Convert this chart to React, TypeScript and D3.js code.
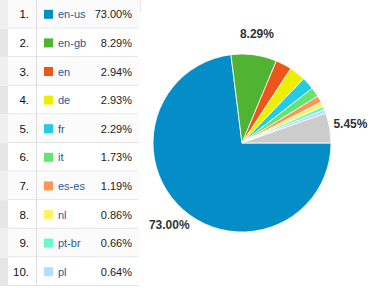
import React from "react";
import * as d3 from "d3";

const categories = ["en-us", "en-gb", "en", "de", "fr", "it", "es-es", "nl", "pt-br", "pl"];
const values = [73.0, 8.29, 2.94, 2.93, 2.29, 1.73, 1.19, 0.86, 0.66, 0.64];
const otherLabel = "other";
const otherValue = 5.45;
const palette = ["#058dc7", "#50b432", "#ed561b", "#edef00", "#24cbe5", "#64e572", "#ff9655", "#fff263", "#6af9c4", "#b2deff"];
const otherColor = "#cccccc";

const W = 383;
const H = 288;

export default function App() {
  const rowH = 28.6;
  const rowY = d3.scaleLinear().domain([0, 1]).range([0, rowH]);

  const slices = categories.map((c, i) => ({ name: c, value: values[i], color: palette[i] }))
    .concat([{ name: otherLabel, value: otherValue, color: otherColor }]);

  const cx = 242, cy = 143, r = 89, lr = 110;
  const pie = d3.pie<any>().value((d: any) => d.value).sort(null)
    .startAngle(Math.PI / 2).endAngle(Math.PI / 2 + 2 * Math.PI);
  const arcs = pie(slices);
  const arcGen = d3.arc<any>().innerRadius(0).outerRadius(r);
  const labelArc = d3.arc<any>().innerRadius(lr).outerRadius(lr);

  const font = "'Liberation Sans', Arial, sans-serif";

  return (
    <svg width={W} height={H} style={{ position: "absolute", left: 0, top: 0, background: "#fff" }}>
      <g>
        {categories.map((c, i) => {
          const y0 = rowY(i);
          const y1 = rowY(i + 1);
          const mid = (y0 + y1) / 2;
          return (
            <g key={c}>
              <rect x={0} y={y0} width={140} height={y1 - y0} fill={i % 2 === 0 ? "#fbfbfb" : "#ffffff"} />
              <rect x={0} y={y0} width={8} height={y1 - y0} fill={i % 2 === 0 ? "#efefef" : "#e6e6e6"} />
              <line x1={8} x2={138} y1={y1 - 0.5} y2={y1 - 0.5} stroke="#e2e2e2" strokeWidth={1} />
              <text x={29} y={mid + 4} textAnchor="end" fontFamily={font} fontSize={11.5} fill="#111">{`${i + 1}.`}</text>
              <rect x={44} y={mid - 4.5} width={9} height={9} fill={palette[i]} />
              <text x={58} y={mid + 4} fontFamily={font} fontSize={11} fill="#1f5c99">{c}</text>
              <text x={132} y={mid + 4} textAnchor="end" fontFamily={font} fontSize={11} fill="#222">{`${values[i].toFixed(2)}%`}</text>
            </g>
          );
        })}
        <line x1={36.5} x2={36.5} y1={0} y2={rowY(10)} stroke="#dcdcdc" strokeWidth={1} />
        <line x1={140.5} x2={140.5} y1={0} y2={12} stroke="#e6e6e6" strokeWidth={1} />
      </g>
      <g transform={`translate(${cx},${cy})`}>
        {arcs.map((a, i) => (
          <path key={i} d={arcGen(a) as string} fill={a.data.color} stroke="#fff" strokeWidth={0.8} strokeLinejoin="round" />
        ))}
        {arcs.filter((a) => a.data.value > 5).map((a, i) => {
          const [lx, ly] = labelArc.centroid(a);
          return (
            <text key={i} x={lx} y={ly + 4} textAnchor="middle" fontFamily={font} fontSize={12} fontWeight="bold" fill="#333">
              {`${a.data.value.toFixed(2)}%`}
            </text>
          );
        })}
      </g>
    </svg>
  );
}
